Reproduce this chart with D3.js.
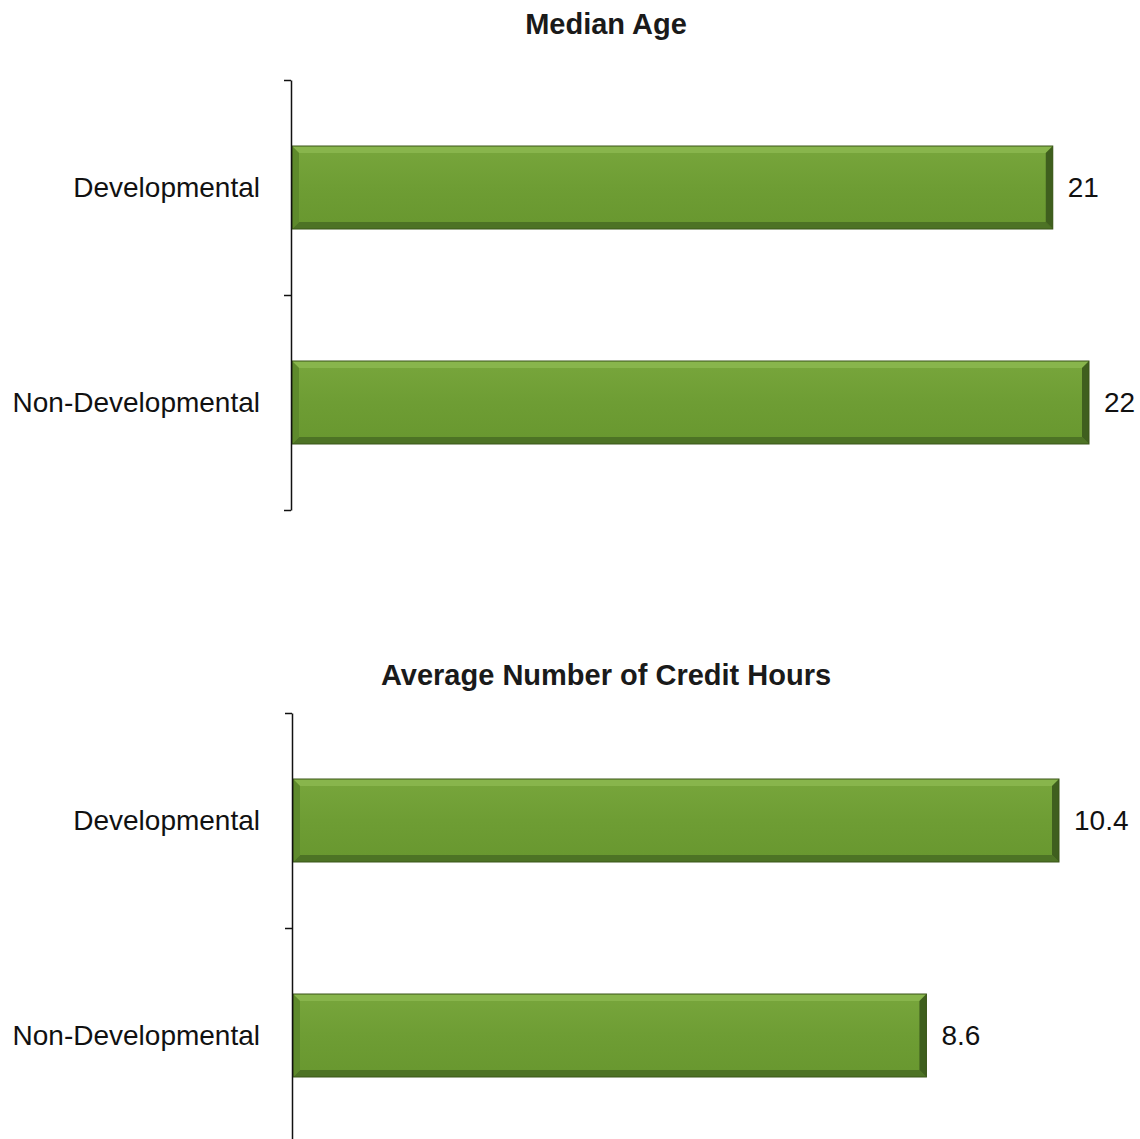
<!DOCTYPE html>
<html>
<head>
<meta charset="utf-8">
<script src="https://cdn.jsdelivr.net/npm/d3@7"></script>
<style>
  html, body { margin: 0; padding: 0; background: #fff; }
  svg { display: block; font-family: "Liberation Sans", Arial, sans-serif; }
</style>
</head>
<body>
<div id="chart"></div>
<script>
// data
const categories = ["Developmental", "Non-Developmental"];
const medianAge = [21, 22];
const creditHours = [10.4, 8.6];
const titles = ["Median Age", "Average Number of Credit Hours"];

const W = 1140, H = 1139;

const svg = d3.select("#chart").append("svg")
  .attr("width", W)
  .attr("height", H);

// bar shading
const defs = svg.append("defs");
const grad = defs.append("linearGradient")
  .attr("id", "barFill")
  .attr("x1", 0).attr("y1", 0).attr("x2", 0).attr("y2", 1);
grad.append("stop").attr("offset", "0%").attr("stop-color", "#78a63c");
grad.append("stop").attr("offset", "50%").attr("stop-color", "#6e9d34");
grad.append("stop").attr("offset", "100%").attr("stop-color", "#68972f");

const panels = [
  { title: titles[0], values: medianAge, titleY: 34, top: 80, bottom: 510, left: 292, max: 22, maxX: 1089 },
  { title: titles[1], values: creditHours, titleY: 685, top: 713, bottom: 1143, left: 293, max: 10.4, maxX: 1059 }
];

panels.forEach(p => {
  const g = svg.append("g");
  const data = categories.map((c, i) => ({ cat: c, value: p.values[i] }));

  const x = d3.scaleLinear().domain([0, p.max]).range([p.left, p.maxX]);
  const y = d3.scaleBand().domain(categories)
    .range([p.top, p.bottom])
    .paddingInner(0.614)
    .paddingOuter(0.307);

  // title
  g.append("text")
    .attr("x", 606)
    .attr("y", p.titleY)
    .attr("text-anchor", "middle")
    .attr("font-size", 29)
    .attr("font-weight", "bold")
    .attr("fill", "#1a1a1a")
    .text(p.title);

  // bars with bevel
  const bevel = 7;
  const bar = g.selectAll("g.bar").data(data).join("g").attr("class", "bar");
  bar.append("rect")
    .attr("x", x(0))
    .attr("y", d => y(d.cat))
    .attr("width", d => x(d.value) - x(0))
    .attr("height", y.bandwidth())
    .attr("fill", "url(#barFill)");
  // top bevel
  bar.append("polygon")
    .attr("points", d => {
      const x0 = x(0), x1 = x(d.value), y0 = y(d.cat);
      return [[x0, y0], [x1, y0], [x1 - bevel, y0 + bevel], [x0 + bevel, y0 + bevel]].join(" ");
    })
    .attr("fill", "#88b54c");
  // bottom bevel
  bar.append("polygon")
    .attr("points", d => {
      const x0 = x(0), x1 = x(d.value), y1 = y(d.cat) + y.bandwidth();
      return [[x0, y1], [x1, y1], [x1 - bevel, y1 - bevel], [x0 + bevel, y1 - bevel]].join(" ");
    })
    .attr("fill", "#4d7325");
  // right bevel
  bar.append("polygon")
    .attr("points", d => {
      const x1 = x(d.value), y0 = y(d.cat), y1 = y0 + y.bandwidth();
      return [[x1, y0], [x1, y1], [x1 - bevel, y1 - bevel], [x1 - bevel, y0 + bevel]].join(" ");
    })
    .attr("fill", "#3f5f1e");
  // left bevel
  bar.append("polygon")
    .attr("points", d => {
      const x0 = x(0), y0 = y(d.cat), y1 = y0 + y.bandwidth();
      return [[x0, y0], [x0, y1], [x0 + bevel, y1 - bevel], [x0 + bevel, y0 + bevel]].join(" ");
    })
    .attr("fill", "#5e8a2c");
  // outline
  bar.append("rect")
    .attr("x", x(0))
    .attr("y", d => y(d.cat))
    .attr("width", d => x(d.value) - x(0))
    .attr("height", y.bandwidth())
    .attr("fill", "none")
    .attr("stroke", "#3a5519")
    .attr("stroke-width", 1);

  // value labels
  g.selectAll("text.val").data(data).join("text")
    .attr("class", "val")
    .attr("x", d => x(d.value) + 15)
    .attr("y", d => y(d.cat) + y.bandwidth() / 2)
    .attr("dy", "0.35em")
    .attr("font-size", 28)
    .attr("fill", "#111")
    .text(d => d.value);

  // category labels
  g.selectAll("text.cat").data(data).join("text")
    .attr("class", "cat")
    .attr("x", 260)
    .attr("y", d => y(d.cat) + y.bandwidth() / 2)
    .attr("dy", "0.35em")
    .attr("text-anchor", "end")
    .attr("font-size", 28)
    .attr("fill", "#111")
    .text(d => d.cat);

  // axis with ticks at band boundaries
  const yb = d3.scaleLinear().domain([0, categories.length]).range([p.top, p.bottom]);
  const axis = g.append("g")
    .attr("transform", `translate(${x(0) - 1},0)`)
    .call(d3.axisLeft(yb).tickValues(d3.range(categories.length + 1)).tickSize(7).tickSizeOuter(0).tickFormat(""));
  axis.selectAll("path, line").attr("stroke", "#111").attr("stroke-width", 1.5);
});
</script>
</body>
</html>
